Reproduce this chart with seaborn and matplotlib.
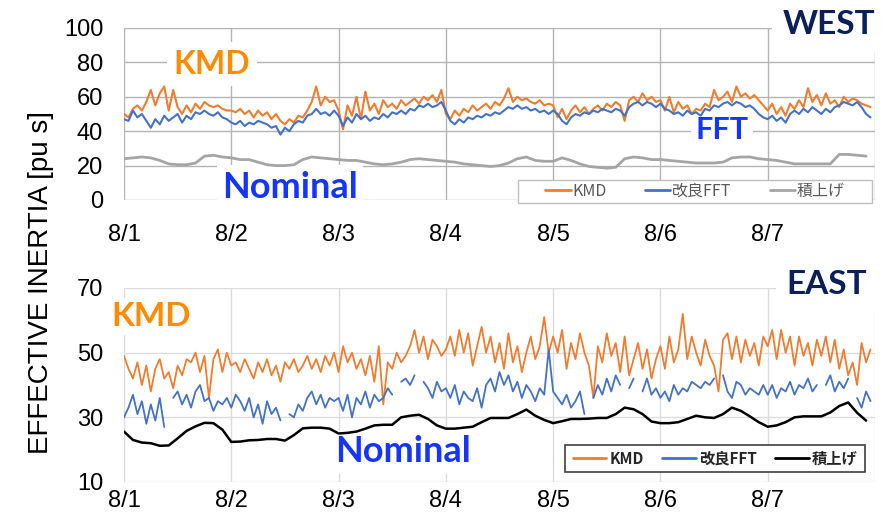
import numpy as np
import pandas as pd
import matplotlib
matplotlib.use('Agg')
import matplotlib.pyplot as plt
from matplotlib.lines import Line2D
from matplotlib.patches import Rectangle
import seaborn as sns

nan = np.nan

day_labels = ['8/1', '8/2', '8/3', '8/4', '8/5', '8/6', '8/7']
legend_labels = ['KMD', '改良FFT', '積上げ']

# WEST, hourly values
west_kmd = [
    50, 48, 53, 55, 52, 57, 64, 55, 62, 66, 52, 64, 54, 50, 55, 51, 56, 53, 57, 55, 54, 55, 53, 52,
    52, 51, 53, 50, 52, 48, 52, 49, 51, 47, 50, 46, 44, 47, 45, 49, 48, 52, 57, 66, 55, 60, 57, 58,
    52, 41, 55, 49, 60, 47, 63, 52, 56, 50, 58, 54, 56, 53, 58, 55, 57, 59, 56, 60, 58, 61, 57, 64,
    50, 47, 52, 49, 53, 51, 55, 52, 54, 56, 53, 57, 55, 59, 65, 57, 60, 58, 59, 57, 56, 58, 55, 56,
    55, 48, 53, 47, 52, 55, 51, 54, 50, 53, 55, 52, 56, 54, 57, 55, 46, 58, 60, 57, 62, 58, 60, 57,
    58, 52, 60, 51, 57, 53, 55, 50, 53, 52, 56, 54, 64, 58, 60, 63, 57, 66, 60, 62, 59, 61, 58, 55,
    52, 56, 50, 54, 49, 56, 53, 58, 54, 65, 57, 61, 55, 62, 56, 58, 54, 60, 57, 59, 58, 56, 55, 54,
]
west_fft = [
    47, 46, 52, 48, 50, 46, 42, 47, 44, 49, 46, 48, 50, 45, 49, 47, 51, 50, 52, 50, 49, 51, 48, 47,
    45, 44, 46, 43, 45, 44, 46, 45, 44, 42, 43, 38, 42, 40, 44, 46, 45, 49, 50, 53, 50, 51, 49, 52,
    49, 43, 48, 45, 50, 47, 49, 46, 48, 47, 50, 48, 51, 50, 52, 50, 53, 52, 55, 54, 56, 54, 55, 57,
    52, 46, 44, 47, 45, 48, 47, 49, 48, 50, 49, 51, 50, 52, 54, 53, 55, 53, 54, 52, 53, 51, 52, 50,
    52, 50, 46, 44, 48, 50, 49, 51, 50, 52, 51, 53, 52, 51, 53, 52, 49, 54, 56, 57, 55, 57, 56, 54,
    56, 53, 52, 50, 51, 49, 52, 50, 51, 49, 53, 52, 55, 54, 56, 57, 55, 57, 56, 54, 55, 53, 50, 48,
    47, 49, 46, 48, 45, 50, 52, 50, 53, 51, 54, 52, 50, 53, 51, 54, 55, 57, 56, 55, 57, 54, 50, 48,
]
# 2-hourly
west_nominal = [
    24, 24.5, 25, 24.5, 23, 21, 20.5, 20.5, 21.5, 25.5, 26, 25,
    24.5, 23.5, 23.5, 22, 20.5, 20, 20, 20.5, 23.5, 25, 24.5, 24,
    23.5, 23, 23, 22, 21, 20.5, 21, 22, 23.5, 24, 23.5, 23,
    22.5, 22, 21, 20.5, 20, 19.5, 20, 21.5, 24, 25, 23, 22.5,
    22.5, 24.5, 23, 21, 19.5, 19, 18.5, 19, 24, 25, 24.5, 23.5,
    23.5, 23, 22.5, 22, 21.5, 21.5, 21.5, 22, 24.5, 25, 25, 24,
    23.5, 23, 22, 21, 21, 21, 21, 21, 26.5, 26.5, 26, 25.5,
]

# EAST
east_kmd = [
    49, 45, 42, 47, 40, 46, 38, 45, 48, 42, 44, 39, 46, 43, 48, 47, 50, 44, 49, 36, 48, 51, 44, 50,
    46, 47, 44, 48, 45, 42, 47, 44, 48, 43, 46, 41, 47, 45, 48, 44, 46, 49, 45, 48, 44, 49, 46, 50,
    44, 52, 47, 50, 45, 48, 43, 49, 41, 52, 34, 47, 45, 50, 47, 49, 52, 57, 50, 55, 48, 54, 52, 49,
    51, 55, 49, 57, 50, 56, 46, 52, 58, 50, 55, 47, 53, 45, 56, 47, 52, 44, 50, 55, 48, 52, 61, 50,
    55, 50, 57, 45, 53, 48, 56, 50, 46, 36, 52, 47, 56, 49, 53, 44, 55, 43, 48, 53, 45, 51, 42, 48,
    52, 45, 55, 47, 51, 62, 48, 55, 50, 46, 54, 49, 46, 38, 54, 56, 48, 55, 47, 54, 49, 53, 46, 55,
    52, 57, 48, 57, 50, 55, 46, 55, 49, 53, 46, 54, 49, 55, 47, 54, 45, 51, 43, 47, 40, 53, 47, 51,
]
east_fft = [
    30, 33, 37, 31, 35, 28, 34, 29, 36, 27, nan, 36, 38, 34, 37, 33, 38, 40, 35, 36, 32, 35, 34, 36,
    33, 37, 35, 32, 36, 30, 34, 28, 35, 31, 33, 29, nan, 31, 30, 34, 32, 36, 38, 34, 37, 33, 36, 35,
    36, 32, 37, 30, 36, 34, 38, 33, 37, 35, 36, 39, 37, nan, 41, 42, 40, 43, nan, 41, 39, 36, 41, 38,
    39, 36, 40, 34, 38, 36, 35, 39, 33, 40, 42, 38, 44, 40, 43, 38, 41, 36, 40, 38, 35, 39, 37, 51,
    38, 36, 34, 37, 33, 35, 38, 31, nan, 36, 40, 37, 42, 38, 43, 40, nan, 39, 42, nan, 38, 42, 37, 39,
    36, 38, 35, 40, 37, 39, 38, 41, 40, 39, 41, 40, 42, nan, 43, 38, 36, 41, 40, 37, 39, 38, 37, 40,
    37, 40, 36, 39, 38, 41, 37, 40, 39, 42, 38, 40, nan, 40, 43, 38, 41, 39, 42, nan, 36, 33, 38, 35,
]
east_nominal = [
    25.6, 23, 22.2, 22, 21.2, 21.3, 23.5, 25.8, 27.2, 28.3, 28.2, 26.2,
    22.4, 22.5, 22.9, 23, 23.3, 23.3, 22.8, 24.5, 26.6, 26.8, 26.8, 26.5,
    25, 25.2, 25.6, 26.5, 27.5, 27.7, 27.7, 30, 30.5, 30.8, 29.5, 27.5,
    26.5, 26.5, 26.8, 27.1, 28.5, 29.8, 29.8, 29.8, 31, 32.4, 30.5, 29.2,
    28.2, 28.8, 29.5, 29.5, 29.6, 29.8, 29.8, 31, 33, 32.5, 31, 28.7,
    28.2, 28.2, 28.5, 29.5, 30.5, 30, 29.8, 31, 33, 32, 30.3, 28.5,
    27.1, 27.5, 28.5, 30, 30.3, 30.3, 30.3, 31.5, 33.5, 34.6, 31.4, 29,
]

START = pd.Timestamp('2020-08-01')


def to_frame(values, freq):
    t = pd.date_range(START, periods=len(values), freq=freq)
    df = pd.DataFrame({'time': t, 'value': values})
    # new segment after each gap so missing values break the line
    df['seg'] = df['value'].isna().cumsum()
    return df.dropna()


def draw(ax, values, freq, color, lw):
    df = to_frame(values, freq)
    sns.lineplot(data=df, x='time', y='value', units='seg', estimator=None,
                 color=color, lw=lw, ax=ax, legend=False)


sns.set_theme(style='white')
plt.rcParams['font.family'] = ['Liberation Sans', 'Noto Sans CJK JP', 'DejaVu Sans']

W, H = 892, 519
fig = plt.figure(figsize=(W / 100, H / 100), dpi=100)


def fx(px):
    return px / W


def fy(py):
    return 1 - py / H


ax1 = fig.add_axes([fx(124), fy(200), fx(875) - fx(124), fy(28) - fy(200)])
ax2 = fig.add_axes([fx(124), fy(482), fx(875) - fx(124), fy(288) - fy(482)])

ORANGE, BLUE, GRAY = '#ED7D31', '#4472C4', '#A5A5A5'

draw(ax1, west_kmd, 'h', ORANGE, 1.5)
draw(ax1, west_fft, 'h', BLUE, 1.5)
draw(ax1, west_nominal, '2h', GRAY, 2.0)

draw(ax2, east_kmd, 'h', ORANGE, 1.3)
draw(ax2, east_fft, 'h', BLUE, 1.3)
draw(ax2, east_nominal, '2h', 'black', 1.8)

ticks = pd.date_range(START, periods=len(day_labels), freq='D')
for ax, ylim, yt, gcol, xpad in [(ax1, (0, 100), range(0, 101, 20), '#B4B4B4', 17),
                                 (ax2, (10, 70), range(10, 71, 20), '#DCDCDC', 6)]:
    ax.set_xlim(START, START + pd.Timedelta(days=7))
    ax.set_ylim(*ylim)
    ax.set_yticks(list(yt))
    ax.set_xticks(ticks)
    ax.set_xticklabels(day_labels)
    ax.set_xlabel('')
    ax.set_ylabel('')
    ax.grid(True, color=gcol, lw=1.0)
    ax.set_axisbelow(True)
    for s in ax.spines.values():
        s.set_visible(False)
    ax.tick_params(axis='x', length=0, pad=xpad, labelsize=17, colors='black')
    ax.tick_params(axis='y', length=0, pad=15, labelsize=17, colors='black')

# right edge grid line (end of 8/7)
ax1.axvline(START + pd.Timedelta(days=7), color='#B4B4B4', lw=1.0, zorder=0)
ax2.axvline(START + pd.Timedelta(days=7), color='#DCDCDC', lw=1.0, zorder=0)


def legend_box(ax, x0, y0, x1, y1, edge, lw):
    r = Rectangle((fx(x0), fy(y1)), fx(x1) - fx(x0), fy(y0) - fy(y1),
                  transform=fig.transFigure, facecolor='white', edgecolor=edge,
                  lw=lw, zorder=4, clip_on=False)
    ax.add_artist(r)
    return ((fx(x0) + fx(x1)) / 2, (fy(y0) + fy(y1)) / 2)


# legends
leg_font = ['Noto Sans CJK JP', 'DejaVu Sans']
c1 = legend_box(ax1, 518, 180, 872, 203, '#BFBFBF', 1.0)
h1 = [Line2D([], [], color=c, lw=2) for c in (ORANGE, BLUE, GRAY)]
lg1 = ax1.legend(h1, legend_labels, ncol=3, loc='center', bbox_to_anchor=c1,
                 bbox_transform=fig.transFigure, frameon=False,
                 handlelength=1.6, handletextpad=0.1, columnspacing=2.4,
                 borderpad=0.0, prop={'family': leg_font, 'size': 11.5})
for t in lg1.get_texts():
    t.set_color('#595959')
lg1.set_zorder(5)

c2 = legend_box(ax2, 565, 445, 865, 472, '#404040', 1.2)
h2 = [Line2D([], [], color=c, lw=2) for c in (ORANGE, BLUE, 'black')]
lg2 = ax2.legend(h2, legend_labels, ncol=3, loc='center', bbox_to_anchor=c2,
                 bbox_transform=fig.transFigure, frameon=False,
                 handlelength=2.2, handletextpad=0.2, columnspacing=1.2,
                 borderpad=0.0, prop={'family': leg_font, 'size': 11, 'weight': 'bold'})
lg2.set_zorder(5)

# annotations (white boxes hide the grid but stay under the data lines)
ANN_ORANGE, ANN_BLUE, NAVY = '#FF8C00', '#1434FF', '#0B1F5B'
ann = dict(family=['Lato', 'DejaVu Sans'], weight='bold', ha='center', va='center',
           zorder=1.5, transform=fig.transFigure)


def label(ax, x, y, s, color, size, pad):
    ax.text(fx(x), fy(y), s, color=color, fontsize=size,
            bbox=dict(facecolor='white', edgecolor='none', pad=pad), **ann)


label(ax1, 212, 64, 'KMD', ANN_ORANGE, 23, 5)
label(ax1, 722, 130, 'FFT', ANN_BLUE, 22, 3)
label(ax1, 290, 187, 'Nominal', ANN_BLUE, 26, 4)
label(ax1, 829, 25, 'WEST', NAVY, 24, 8)

label(ax2, 151, 316, 'KMD', ANN_ORANGE, 24, 3)
label(ax2, 827, 285, 'EAST', NAVY, 24, 8)
label(ax2, 403, 452, 'Nominal', ANN_BLUE, 26, 4)

fig.text(fx(41), fy(283), 'EFFECTIVE INERTIA [pu s]', rotation=90, fontsize=20,
         ha='center', va='center', color='black')

fig.savefig('out.png', dpi=100, facecolor='white')
